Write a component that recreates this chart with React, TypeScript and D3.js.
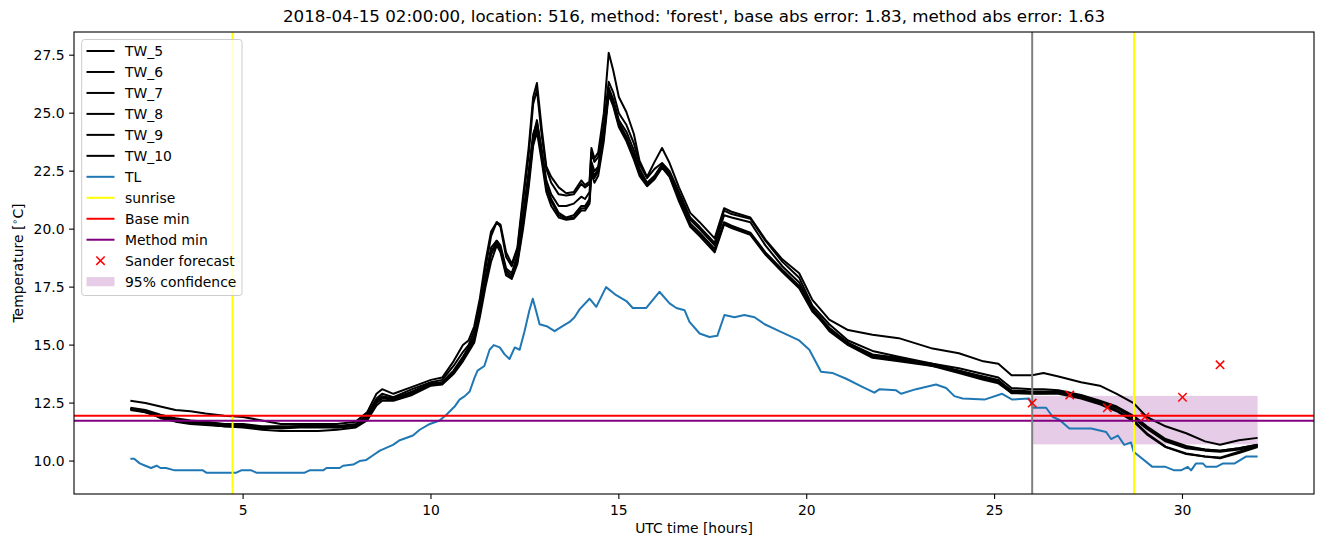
import React from "react";
import * as d3 from "d3";

const W = 1324;
const H = 547;
const margin = { top: 32, right: 10, bottom: 53, left: 74 };

const title =
  "2018-04-15 02:00:00, location: 516, method: 'forest', base abs error: 1.83, method abs error: 1.63";

// water temperature sensors, sampled on a common time axis (hours UTC)
const twHours = [
  2.0, 2.4, 2.8, 3.2, 3.6, 4.0, 4.5, 5.0, 5.5, 6.0, 6.5, 7.0, 7.5, 8.0,
  8.3, 8.55, 8.7, 9.0, 9.5, 10.0, 10.3, 10.6, 10.85,
  11.0, 11.15, 11.3, 11.45, 11.6, 11.75, 11.85,
  12.0, 12.15, 12.3, 12.45, 12.6, 12.72, 12.82, 12.95,
  13.07, 13.2, 13.4, 13.6, 13.8,
  14.0, 14.1, 14.22, 14.27, 14.35, 14.45, 14.6, 14.73, 14.85,
  15.0, 15.2, 15.4, 15.55, 15.75, 15.95,
  16.15, 16.35, 16.6, 16.9,
  17.15, 17.55, 17.8,
  18.0, 18.5, 18.9,
  19.35, 19.8, 20.15, 20.6, 21.1, 21.75,
  22.45, 23.35, 24.05, 24.7, 25.1, 25.45,
  26.0, 26.3, 26.7, 27.3, 27.8, 28.25, 28.7,
  29.05, 29.55, 30.1, 30.6, 31.0, 31.5, 32.0,
];

const tw5 = [
  12.6, 12.5, 12.35, 12.2, 12.15, 12.05, 11.95, 11.9, 11.75, 11.6, 11.6, 11.6, 11.6, 11.7,
  12.1, 12.9, 13.1, 12.9, 13.2, 13.5, 13.6, 14.3, 15.0,
  15.2, 15.8, 17.0, 18.6, 19.9, 20.3, 20.2,
  19.0, 18.5, 19.2, 21.4, 23.5, 25.7, 26.3, 24.3,
  22.7, 22.25, 21.8, 21.55, 21.6,
  22.1, 21.9, 22.05, 23.5, 23.05, 23.3, 25.0, 27.6, 26.85,
  25.7, 25.05, 24.1, 22.95, 22.25, 22.9,
  23.5, 22.85, 21.8, 20.7,
  20.3, 19.6, 20.9,
  20.75, 20.5, 19.55,
  18.7, 18.1, 16.95, 16.1, 15.65, 15.45,
  15.3, 14.85, 14.65, 14.3, 14.2, 13.7,
  13.7, 13.8, 13.65, 13.4, 13.25, 12.9, 12.5,
  11.9, 11.5, 11.2, 10.85, 10.7, 10.9, 11.0,
];
const tw6 = [
  12.3, 12.2, 12.0, 11.85, 11.75, 11.7, 11.6, 11.6, 11.5, 11.5, 11.5, 11.55, 11.5, 11.6,
  12.0, 12.7, 12.9, 12.75, 13.1, 13.4, 13.5, 14.1, 14.7,
  15.0, 15.6, 16.8, 18.3, 19.7, 20.3, 20.1,
  18.8, 18.4, 19.1, 21.2, 23.2, 25.4, 26.0, 24.0,
  22.6, 22.0, 21.5, 21.45, 21.5,
  21.95, 21.8, 21.95, 23.3, 22.9, 23.1, 24.5, 26.35, 25.9,
  25.0, 24.5, 23.7, 22.8, 22.2, 22.6,
  22.85, 22.5, 21.6, 20.5,
  20.1, 19.4, 20.8,
  20.65, 20.45, 19.5,
  18.6, 17.9, 16.7, 15.9, 15.2, 14.75,
  14.5, 14.2, 14.0, 13.75, 13.6, 13.15,
  13.1, 13.1, 13.05, 12.85, 12.6, 12.35, 11.95,
  11.5, 10.95, 10.65, 10.5, 10.45, 10.55, 10.7,
];
const tw7 = [
  12.25, 12.15, 11.95, 11.8, 11.7, 11.65, 11.55, 11.55, 11.45, 11.45, 11.5, 11.5, 11.45, 11.55,
  11.9, 12.6, 12.8, 12.7, 13.0, 13.35, 13.4, 13.9, 14.5,
  14.9, 15.4, 16.6, 17.9, 19.2, 19.5, 19.3,
  18.3, 18.1, 18.9, 20.6, 22.5, 24.1, 24.6, 23.4,
  22.1, 21.5, 21.0, 21.0, 21.1,
  21.4, 21.3, 21.6, 22.9, 22.5, 22.7, 24.2, 26.1, 25.6,
  24.7, 24.2, 23.4, 22.6, 22.0, 22.3,
  22.8, 22.4, 21.5, 20.4,
  20.0, 19.3, 20.6,
  20.5, 20.3, 19.3,
  18.4, 17.7, 16.6, 15.75, 15.1, 14.6,
  14.45, 14.1, 13.9, 13.65, 13.5, 13.0,
  12.95, 12.95, 12.95, 12.8, 12.55, 12.3, 11.85,
  11.4, 10.85, 10.55, 10.45, 10.4, 10.5, 10.65,
];
const tw8 = [
  12.2, 12.1, 11.9, 11.75, 11.65, 11.6, 11.5, 11.5, 11.45, 11.4, 11.45, 11.45, 11.45, 11.5,
  11.8, 12.5, 12.7, 12.65, 12.9, 13.3, 13.35, 13.8, 14.4,
  14.8, 15.2, 16.4, 17.7, 18.9, 19.4, 19.1,
  18.1, 17.9, 18.6, 20.2, 22.0, 23.8, 24.4, 23.1,
  21.8, 21.2, 20.6, 20.45, 20.5,
  20.9, 20.9, 21.2, 22.6, 22.2, 22.5, 24.0, 26.0, 25.5,
  24.6, 24.0, 23.2, 22.45, 21.95, 22.2,
  22.7, 22.3, 21.3, 20.2,
  19.8, 19.1, 20.25,
  20.1, 19.8, 18.95,
  18.2, 17.5, 16.5, 15.65, 15.05, 14.5,
  14.35, 14.15, 13.85, 13.55, 13.4, 12.92,
  12.92, 12.92, 12.95, 12.75, 12.5, 12.2, 11.75,
  11.2, 10.62, 10.33, 10.2, 10.12, 10.35, 10.6,
];
const tw9 = [
  12.25, 12.15, 11.85, 11.7, 11.6, 11.55, 11.5, 11.5, 11.4, 11.45, 11.5, 11.5, 11.5, 11.55,
  11.85, 12.55, 12.75, 12.7, 12.95, 13.3, 13.4, 13.85, 14.45,
  14.85, 15.3, 16.5, 17.8, 19.0, 19.5, 19.2,
  18.2, 18.0, 18.7, 20.4, 22.3, 24.0, 24.7, 23.3,
  21.9, 21.3, 20.7, 20.5, 20.6,
  21.0, 21.0, 21.3, 22.7, 22.3, 22.6, 24.1, 25.9, 25.4,
  24.5, 23.9, 23.1, 22.4, 21.9, 22.25,
  22.75, 22.35, 21.35, 20.25,
  19.85, 19.15, 20.3,
  20.15, 19.85, 19.0,
  18.25, 17.55, 16.55, 15.6, 15.0, 14.45,
  14.3, 14.1, 13.8, 13.5, 13.35, 12.95,
  12.9, 12.9, 12.9, 12.7, 12.45, 12.15, 11.7,
  11.15, 10.6, 10.3, 10.2, 10.15, 10.4, 10.65,
];
const tw10 = [
  12.25, 12.1, 11.9, 11.8, 11.7, 11.6, 11.5, 11.45, 11.35, 11.3, 11.3, 11.3, 11.35, 11.45,
  11.75, 12.4, 12.6, 12.6, 12.85, 13.25, 13.3, 13.75, 14.3,
  14.7, 15.1, 16.2, 17.5, 18.6, 19.3, 19.0,
  18.0, 17.85, 18.5, 20.0, 21.8, 23.6, 24.2, 22.9,
  21.6, 21.0, 20.5, 20.4, 20.45,
  20.8, 20.8, 21.1, 22.4, 22.0, 22.3, 23.8, 25.8, 25.3,
  24.4, 23.8, 23.0, 22.3, 21.85, 22.15,
  22.65, 22.25, 21.2, 20.1,
  19.7, 19.0, 20.2,
  20.05, 19.75, 18.9,
  18.15, 17.45, 16.45, 15.7, 15.1, 14.55,
  14.4, 14.2, 13.9, 13.6, 13.45, 13.05,
  13.0, 13.0, 13.0, 12.8, 12.55, 12.3, 11.85,
  11.45, 10.9, 10.6, 10.5, 10.45, 10.55, 10.7,
];

// air temperature
const tlHours = [
  2.0, 2.1, 2.25, 2.4, 2.55, 2.7, 2.8, 2.95, 3.18, 3.93,
  4.02, 4.82, 4.95, 5.22, 5.35, 6.64, 6.77, 7.13, 7.22, 7.57,
  7.66, 7.93, 8.1, 8.28, 8.46, 8.64, 8.99, 9.17, 9.52, 9.7,
  9.97, 10.23, 10.41, 10.63, 10.76, 10.9, 11.03, 11.16, 11.24, 11.42,
  11.56, 11.67, 11.83, 11.96, 12.09, 12.23, 12.36, 12.49, 12.62, 12.71,
  12.81, 12.89, 13.1, 13.29, 13.48, 13.69, 13.82, 13.96, 14.22, 14.4,
  14.66, 14.93, 15.2, 15.37, 15.73, 16.08, 16.35, 16.53, 16.75, 16.88,
  17.15, 17.41, 17.62, 17.81, 18.08, 18.34, 18.61, 18.88, 19.27, 19.8,
  20.07, 20.38, 20.68, 21.05, 21.48, 21.8, 21.94, 22.38, 22.51, 22.91,
  23.44, 23.71, 23.93, 24.15, 24.73, 25.2, 25.47, 25.92, 26.02, 26.37,
  26.55, 26.73, 26.99, 27.57, 27.97, 28.1, 28.28, 28.45, 28.63, 28.7,
  29.2, 29.55, 29.78, 29.96, 30.14, 30.23, 30.36, 30.54, 30.63, 30.9,
  31.08, 31.39, 31.7, 32.0,
];
const tlValues = [
  10.1, 10.1, 9.9, 9.8, 9.7, 9.8, 9.7, 9.7, 9.6, 9.6,
  9.5, 9.5, 9.6, 9.6, 9.5, 9.5, 9.6, 9.6, 9.7, 9.7,
  9.8, 9.85, 10.0, 10.05, 10.25, 10.45, 10.7, 10.9, 11.1, 11.35,
  11.6, 11.75, 12.0, 12.35, 12.65, 12.8, 13.0, 13.6, 13.9, 14.1,
  14.8, 15.0, 14.9, 14.6, 14.4, 14.9, 14.8, 15.6, 16.5, 17.0,
  16.4, 15.9, 15.8, 15.6, 15.8, 16.0, 16.2, 16.55, 17.0, 16.65,
  17.5, 17.15, 16.9, 16.6, 16.6, 17.3, 16.8, 16.6, 16.5, 16.0,
  15.5, 15.35, 15.4, 16.3, 16.2, 16.3, 16.2, 15.9, 15.6, 15.2,
  14.8, 13.85, 13.8, 13.55, 13.2, 12.95, 13.1, 13.05, 12.9, 13.1,
  13.3, 13.15, 12.8, 12.7, 12.65, 12.9, 12.65, 12.7, 12.3, 12.3,
  11.9, 11.77, 11.4, 11.4, 11.25, 10.95, 11.1, 10.7, 10.8, 10.4,
  9.75, 9.75, 9.6, 9.6, 9.75, 9.6, 9.9, 9.9, 9.75, 9.75,
  9.9, 9.9, 10.2, 10.2,
];

const sunriseHours = [4.72, 28.71];
const forecastHour = 26;
const baseMin = 11.95;
const methodMin = 11.74;
const sanderHours = [26, 27, 28, 29, 30, 31];
const sanderValues = [12.5, 12.85, 12.3, 11.9, 12.75, 14.15];
const confHours = [26, 32];
const confLow = 10.72;
const confHigh = 12.81;

const xTicks = [5, 10, 15, 20, 25, 30];
const yTicks = [10, 12.5, 15, 17.5, 20, 22.5, 25, 27.5];

const twSeries = [
  { name: "TW_5", values: tw5 },
  { name: "TW_6", values: tw6 },
  { name: "TW_7", values: tw7 },
  { name: "TW_8", values: tw8 },
  { name: "TW_9", values: tw9 },
  { name: "TW_10", values: tw10 },
];

const legendItems = [
  ...twSeries.map((s) => ({ label: s.name, kind: "line", color: "#000000" })),
  { label: "TL", kind: "line", color: "#1f77b4" },
  { label: "sunrise", kind: "line", color: "#ffff00" },
  { label: "Base min", kind: "line", color: "#ff0000" },
  { label: "Method min", kind: "line", color: "#800080" },
  { label: "Sander forecast", kind: "marker", color: "#ff0000" },
  { label: "95% confidence", kind: "patch", color: "#800080" },
];

const font = "DejaVu Sans";

function Cross({ cx, cy, r, color }) {
  return (
    <g stroke={color} strokeWidth={1.5}>
      <line x1={cx - r} y1={cy - r} x2={cx + r} y2={cy + r} />
      <line x1={cx - r} y1={cy + r} x2={cx + r} y2={cy - r} />
    </g>
  );
}

export default function App() {
  const x = d3
    .scaleLinear()
    .domain([0.5, 33.5])
    .range([margin.left, W - margin.right]);
  const y = d3
    .scaleLinear()
    .domain([8.58, 28.5])
    .range([H - margin.bottom, margin.top]);

  const line = d3
    .line()
    .defined((d) => d[1] != null)
    .x((d) => x(d[0]))
    .y((d) => y(d[1]));

  const left = margin.left;
  const right = W - margin.right;
  const top = margin.top;
  const bottom = H - margin.bottom;

  return (
    <svg
      width={W}
      height={H}
      style={{ position: "fixed", left: 0, top: 0, background: "#fff" }}
      fontFamily={font}
    >
      <rect x={0} y={0} width={W} height={H} fill="#fff" />
      <defs>
        <clipPath id="plot">
          <rect x={left} y={top} width={right - left} height={bottom - top} />
        </clipPath>
      </defs>

      <g clipPath="url(#plot)">
        {/* 95% confidence band */}
        <rect
          x={x(confHours[0])}
          y={y(confHigh)}
          width={x(confHours[1]) - x(confHours[0])}
          height={y(confLow) - y(confHigh)}
          fill="#800080"
          fillOpacity={0.2}
        />
        {twSeries.map((s) => (
          <path
            key={s.name}
            d={line(twHours.map((h, i) => [h, s.values[i]]))}
            fill="none"
            stroke="#000"
            strokeWidth={2}
            strokeLinejoin="round"
          />
        ))}
        <path
          d={line(tlHours.map((h, i) => [h, tlValues[i]]))}
          fill="none"
          stroke="#1f77b4"
          strokeWidth={2}
          strokeLinejoin="round"
        />
        {sunriseHours.map((h) => (
          <line key={h} x1={x(h)} x2={x(h)} y1={top} y2={bottom} stroke="#ffff00" strokeWidth={2} />
        ))}
        <line x1={left} x2={right} y1={y(baseMin)} y2={y(baseMin)} stroke="#ff0000" strokeWidth={2} />
        <line x1={left} x2={right} y1={y(methodMin)} y2={y(methodMin)} stroke="#800080" strokeWidth={2} />
        <line
          x1={x(forecastHour)}
          x2={x(forecastHour)}
          y1={top}
          y2={bottom}
          stroke="#808080"
          strokeWidth={2}
        />
        {sanderHours.map((h, i) => (
          <Cross key={h} cx={x(h)} cy={y(sanderValues[i])} r={4.2} color="#ff0000" />
        ))}
      </g>

      {/* spines */}
      <rect
        x={left}
        y={top}
        width={right - left}
        height={bottom - top}
        fill="none"
        stroke="#000"
        strokeWidth={1.1}
      />

      {/* x axis */}
      {xTicks.map((t) => (
        <g key={t}>
          <line x1={x(t)} x2={x(t)} y1={bottom} y2={bottom + 4.9} stroke="#000" strokeWidth={1.1} />
          <text x={x(t)} y={515} textAnchor="middle" fontSize={13.9} fill="#000">
            {t}
          </text>
        </g>
      ))}
      <text x={(left + right) / 2} y={533} textAnchor="middle" fontSize={13.9} fill="#000">
        UTC time [hours]
      </text>

      {/* y axis */}
      {yTicks.map((t) => (
        <g key={t}>
          <line x1={left - 4.9} x2={left} y1={y(t)} y2={y(t)} stroke="#000" strokeWidth={1.1} />
          <text x={left - 9.5} y={y(t) + 5} textAnchor="end" fontSize={13.9} fill="#000">
            {t.toFixed(1)}
          </text>
        </g>
      ))}
      <text
        transform={`translate(23, ${(top + bottom) / 2}) rotate(-90)`}
        textAnchor="middle"
        fontSize={13.9}
        fill="#000"
      >
        Temperature [
        <tspan dy={-5} fontSize={9.7}>
          {"\u2218"}
        </tspan>
        <tspan dy={5}>C]</tspan>
      </text>

      {/* title */}
      <text x={(left + right) / 2} y={22} textAnchor="middle" fontSize={16.7} fill="#000">
        {title}
      </text>

      {/* legend */}
      <rect
        x={81.7}
        y={39.5}
        width={160.3}
        height={256}
        rx={2.8}
        fill="#fff"
        fillOpacity={0.8}
        stroke="#cccccc"
        strokeWidth={1}
      />
      {legendItems.map((item, i) => {
        const cy = 51 + i * 20.97;
        return (
          <g key={item.label}>
            {item.kind === "line" && (
              <line x1={86.5} x2={114.5} y1={cy} y2={cy} stroke={item.color} strokeWidth={2} />
            )}
            {item.kind === "marker" && <Cross cx={100.5} cy={cy} r={4.2} color={item.color} />}
            {item.kind === "patch" && (
              <rect
                x={86.5}
                y={cy - 4.6}
                width={28}
                height={9.2}
                fill={item.color}
                fillOpacity={0.2}
              />
            )}
            <text x={125} y={cy + 5} fontSize={13.9} fill="#000">
              {item.label}
            </text>
          </g>
        );
      })}
    </svg>
  );
}
